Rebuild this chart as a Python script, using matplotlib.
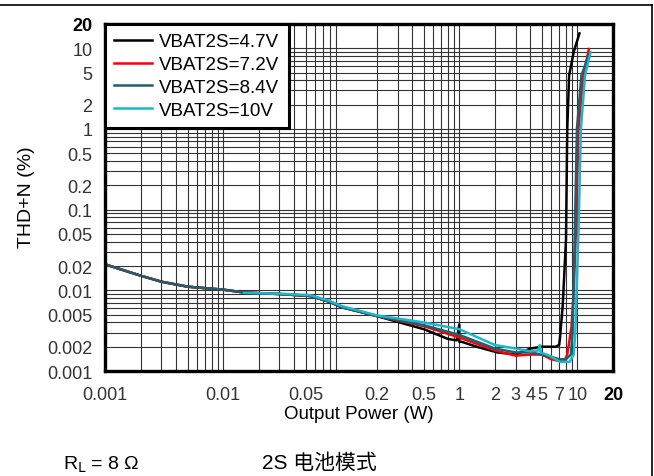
import matplotlib
matplotlib.use("Agg")
import matplotlib.pyplot as plt
from matplotlib.lines import Line2D

plt.rcParams['font.family'] = ['Liberation Sans', 'Noto Sans CJK SC', 'DejaVu Sans']

# THD+N vs output power
p_47 = [0.001, 0.002, 0.003, 0.005, 0.01, 0.015, 0.03, 0.055, 0.08, 0.1, 0.2, 0.5,
        0.8, 0.95, 1.0, 1.0, 1.05, 1.4, 2.1, 3.0, 4.0, 5.0, 6.5, 7.0, 7.1, 7.5, 8.0,
        8.2, 8.5, 9.3, 10.4]
thd_47 = [0.021, 0.0152, 0.0128, 0.0111, 0.0102, 0.0094, 0.009, 0.0085, 0.0072, 0.0062,
          0.0048, 0.0033, 0.0025, 0.0024, 0.0038, 0.0023, 0.0023, 0.002, 0.0017, 0.0016,
          0.0019, 0.002, 0.002, 0.0021, 0.0025, 0.0064, 0.043, 1.0, 4.6, 9.0, 15.3]

p_72 = [0.001, 0.002, 0.003, 0.005, 0.01, 0.015, 0.03, 0.055, 0.08, 0.1, 0.2, 0.5,
        1.0, 2.0, 3.0, 4.0, 5.0, 6.0, 7.0, 7.8, 8.2, 8.6, 8.9, 9.3, 9.7, 10.2, 11.2, 12.5]
thd_72 = [0.021, 0.0152, 0.0128, 0.0111, 0.0102, 0.0094, 0.009, 0.0085, 0.0072, 0.0062,
          0.0048, 0.0036, 0.0026, 0.0018, 0.00155, 0.0016, 0.0016, 0.0014, 0.00133,
          0.00135, 0.0016, 0.0025, 0.0035, 0.01, 0.053, 1.0, 4.6, 9.8]

p_84 = [0.001, 0.002, 0.003, 0.005, 0.01, 0.015, 0.03, 0.055, 0.08, 0.1, 0.2, 0.5,
        1.0, 2.0, 3.0, 4.0, 5.0, 6.0, 7.0, 8.0, 8.8, 9.1, 9.5, 9.9, 10.8, 12.7]
thd_84 = [0.021, 0.0152, 0.0128, 0.0111, 0.0102, 0.0094, 0.009, 0.0085, 0.0072, 0.0062,
          0.0048, 0.0037, 0.0028, 0.0019, 0.0017, 0.0017, 0.0016, 0.0015, 0.0014, 0.0014,
          0.0016, 0.003, 0.053, 1.0, 4.6, 8.8]

p_10 = [0.015, 0.03, 0.055, 0.08, 0.1, 0.2, 0.5, 1.0, 2.0, 3.0, 4.0, 4.7, 4.8, 4.9,
        5.8, 7.1, 8.6, 9.3, 9.6, 10.2, 10.7, 11.6, 12.9]
thd_10 = [0.0093, 0.0091, 0.0087, 0.0074, 0.0064, 0.0049, 0.004, 0.0033, 0.0021, 0.0019,
          0.00175, 0.0018, 0.0021, 0.0017, 0.00155, 0.0013, 0.0013, 0.0016, 0.003, 0.053,
          1.0, 4.6, 8.9]

series = [
    ("VBAT2S=4.7V", p_47, thd_47, "black"),
    ("VBAT2S=7.2V", p_72, thd_72, "#ff0000"),
    ("VBAT2S=8.4V", p_84, thd_84, "#1f5f70"),
    ("VBAT2S=10V", p_10, thd_10, "#19b8cc"),
]

x_ticks = [0.001, 0.01, 0.05, 0.2, 0.5, 1, 2, 3, 4, 5, 7, 10, 20]
x_labels = ["0.001", "0.01", "0.05", "0.2", "0.5", "1", "2", "3", "4", "5", "7", "10", "20"]
y_ticks = [0.001, 0.002, 0.005, 0.01, 0.02, 0.05, 0.1, 0.2, 0.5, 1, 2, 5, 10, 20]
y_labels = ["0.001", "0.002", "0.005", "0.01", "0.02", "0.05", "0.1", "0.2", "0.5",
            "1", "2", "5", "10", "20"]

fig = plt.figure(figsize=(6.54, 4.77), dpi=100)
ax = fig.add_axes([0.1606, 0.2201, 0.7767, 0.7275])

for label, x, y, c in series:
    ax.plot(x, y, color=c, lw=1.8, label=label, solid_joinstyle='round')

ax.set_xscale('log')
ax.set_yscale('log')
ax.set_xlim(0.001, 20)
ax.set_ylim(0.001, 20)

ax.grid(True, which='both', color='0.2', lw=0.8)
ax.set_axisbelow(True)

ax.set_xticks(x_ticks)
ax.set_xticklabels(x_labels)
ax.set_yticks(y_ticks)
ax.set_yticklabels(y_labels)
ax.tick_params(which='both', length=0, labelsize=13, labelcolor='#333333')
ax.tick_params(axis='x', pad=11)
ax.tick_params(axis='y', pad=9)
for t in (ax.get_xticklabels()[-1], ax.get_yticklabels()[-1]):
    t.set_fontweight('bold')
    t.set_color('black')

for s in ax.spines.values():
    s.set_linewidth(2.4)

ax.set_xlabel("Output Power (W)", fontsize=13.5, labelpad=1)
fig.text(0.041, 0.587, "THD+N (%)", rotation=90, fontsize=14, ha='center', va='center')

leg = ax.legend(loc='upper left', bbox_to_anchor=(0, 1), borderaxespad=0,
                fancybox=False, framealpha=1, edgecolor='black', fontsize=13.5,
                labelspacing=0.3, handlelength=2.0, handletextpad=0.4,
                borderpad=0.5)
leg.get_frame().set_linewidth(2.2)

fig.text(0.096, 0.016, r"R$_\mathrm{L}$ = 8 Ω", fontsize=14)
fig.text(0.40, 0.016, "2S 电池模式", fontsize=15)

# thin frame around the figure (top and right edges visible in the reference)
fig.add_artist(Line2D([0, 0.997], [0.9874, 0.9874], color='black', lw=1.2,
                      transform=fig.transFigure))
fig.add_artist(Line2D([0.997, 0.997], [0, 0.9874], color='black', lw=1.2,
                      transform=fig.transFigure))

fig.savefig("out.png", dpi=100)
